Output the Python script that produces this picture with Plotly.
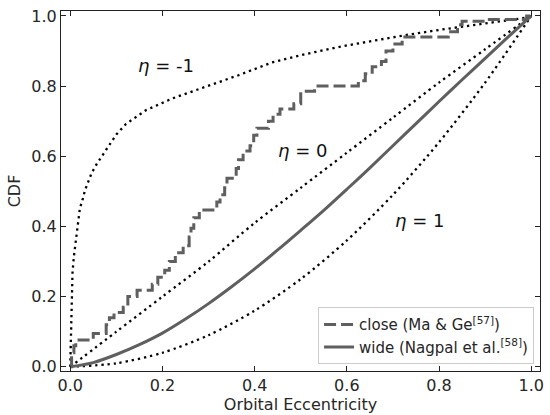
import plotly.graph_objects as go

# ---- data ----
close_e = [0.0, 0.003, 0.008, 0.012, 0.05, 0.078, 0.085, 0.095, 0.115, 0.125, 0.145, 0.178,
           0.19, 0.205, 0.215, 0.228, 0.245, 0.258, 0.262, 0.268, 0.28, 0.318, 0.325, 0.335,
           0.34, 0.36, 0.365, 0.375, 0.39, 0.398, 0.405, 0.43, 0.44, 0.455, 0.485, 0.5,
           0.53, 0.625, 0.64, 0.655, 0.675, 0.685, 0.7, 0.72, 0.82, 0.84, 0.85, 0.9, 0.99, 1.0]
close_cdf = [0.0, 0.04, 0.06, 0.076, 0.095, 0.12, 0.14, 0.155, 0.17, 0.2, 0.218, 0.235,
             0.255, 0.275, 0.3, 0.325, 0.345, 0.37, 0.395, 0.425, 0.447, 0.47, 0.49, 0.51,
             0.537, 0.565, 0.59, 0.615, 0.63, 0.66, 0.68, 0.7, 0.72, 0.735, 0.75, 0.785,
             0.8, 0.815, 0.835, 0.855, 0.87, 0.9, 0.92, 0.94, 0.955, 0.975, 0.985, 0.99, 1.0, 1.0]

wide_e = [0, 0.05, 0.1, 0.15, 0.2, 0.25, 0.3, 0.35, 0.4, 0.45, 0.5, 0.55, 0.6, 0.65, 0.7,
          0.75, 0.8, 0.85, 0.9, 0.95, 1.0]
wide_cdf = [0, 0.012, 0.035, 0.063, 0.096, 0.136, 0.18, 0.228, 0.279, 0.333, 0.389, 0.446,
            0.506, 0.567, 0.63, 0.693, 0.756, 0.818, 0.879, 0.94, 1.0]

etam1_e = [0.0, 0.001, 0.003, 0.005, 0.008, 0.01, 0.014, 0.017, 0.021, 0.027, 0.032, 0.039,
           0.046, 0.057, 0.075, 0.1, 0.121, 0.164, 0.222, 0.293, 0.365, 0.437, 0.51, 0.584,
           0.655, 0.726, 0.8, 0.87, 0.94, 1.0]
etam1_cdf = [0.0, 0.05, 0.17, 0.27, 0.315, 0.335, 0.372, 0.413, 0.452, 0.477, 0.503, 0.527,
             0.551, 0.577, 0.613, 0.662, 0.692, 0.731, 0.765, 0.798, 0.831, 0.867, 0.891, 0.912,
             0.929, 0.945, 0.96, 0.973, 0.986, 0.997]

eta0_e = [0, 0.1, 0.2, 0.3, 0.4, 0.5, 0.6, 0.7, 0.8, 0.9, 1.0]
eta0_cdf = [0, 0.1, 0.2, 0.3, 0.41, 0.51, 0.61, 0.71, 0.81, 0.905, 1.0]

eta1_e = [0, 0.1, 0.2, 0.3, 0.4, 0.5, 0.6, 0.7, 0.8, 0.9, 1.0]
eta1_cdf = [0, 0.01, 0.04, 0.09, 0.16, 0.25, 0.36, 0.49, 0.64, 0.81, 1.0]

labels = [("<i>η</i> = -1", 0.207, 0.86), ("<i>η</i> = 0", 0.503, 0.617), ("<i>η</i> = 1", 0.757, 0.418)]
ticks = [0.0, 0.2, 0.4, 0.6, 0.8, 1.0]
tick_text = ["0.0", "0.2", "0.4", "0.6", "0.8", "1.0"]

GRAY = "#5f5f5f"
FONT = "DejaVu Sans"

fig = go.Figure()
fig.add_trace(go.Scatter(x=etam1_e, y=etam1_cdf, mode="lines", showlegend=False, hoverinfo="skip",
                         line=dict(color="black", width=2.3, dash="2.3px,3.9px")))
for xs, ys in [(eta0_e, eta0_cdf), (eta1_e, eta1_cdf)]:
    fig.add_trace(go.Scatter(x=xs, y=ys, mode="lines", showlegend=False, hoverinfo="skip",
                             line=dict(color="black", width=2.3, dash="2.3px,3.9px",
                                       shape="spline", smoothing=0.8)))

fig.add_trace(go.Scatter(x=close_e, y=close_cdf, mode="lines",
                         line=dict(color=GRAY, width=3, dash="12px,5px", shape="hv"),
                         name="close (Ma & Ge<sup>[57]</sup>)"))
fig.add_trace(go.Scatter(x=wide_e, y=wide_cdf, mode="lines",
                         line=dict(color=GRAY, width=3, shape="spline", smoothing=0.8),
                         name="wide (Nagpal et al.<sup>[58]</sup>)"))

for txt, x, y in labels:
    fig.add_annotation(x=x, y=y, text=txt, showarrow=False,
                       font=dict(size=18, color="#111111", family=FONT))

axis_common = dict(showgrid=False, zeroline=False, showline=True, linecolor="#222222", linewidth=1,
                   mirror="ticks", ticks="inside", ticklen=5, tickcolor="#222222",
                   tickvals=ticks, ticktext=tick_text,
                   tickfont=dict(size=16, color="#262626", family=FONT))

fig.update_layout(
    width=550, height=415,
    margin=dict(l=61, r=6, t=11, b=44),
    paper_bgcolor="white", plot_bgcolor="white",
    font=dict(family=FONT, size=16, color="#262626"),
    xaxis=dict(range=[-0.02, 1.019], title=dict(text="Orbital Eccentricity", standoff=2,
               font=dict(size=16, family=FONT, color="#262626")), **axis_common),
    yaxis=dict(range=[-0.012, 1.014], title=dict(text="CDF", standoff=6,
               font=dict(size=16, family=FONT, color="#262626")), **axis_common),
    legend=dict(x=0.9876, y=0.019, xanchor="right", yanchor="bottom",
                bordercolor="#cccccc", borderwidth=1, bgcolor="rgba(255,255,255,0.8)",
                font=dict(size=15, color="#262626", family=FONT), tracegroupgap=2),
)

fig.write_html("out.html")
